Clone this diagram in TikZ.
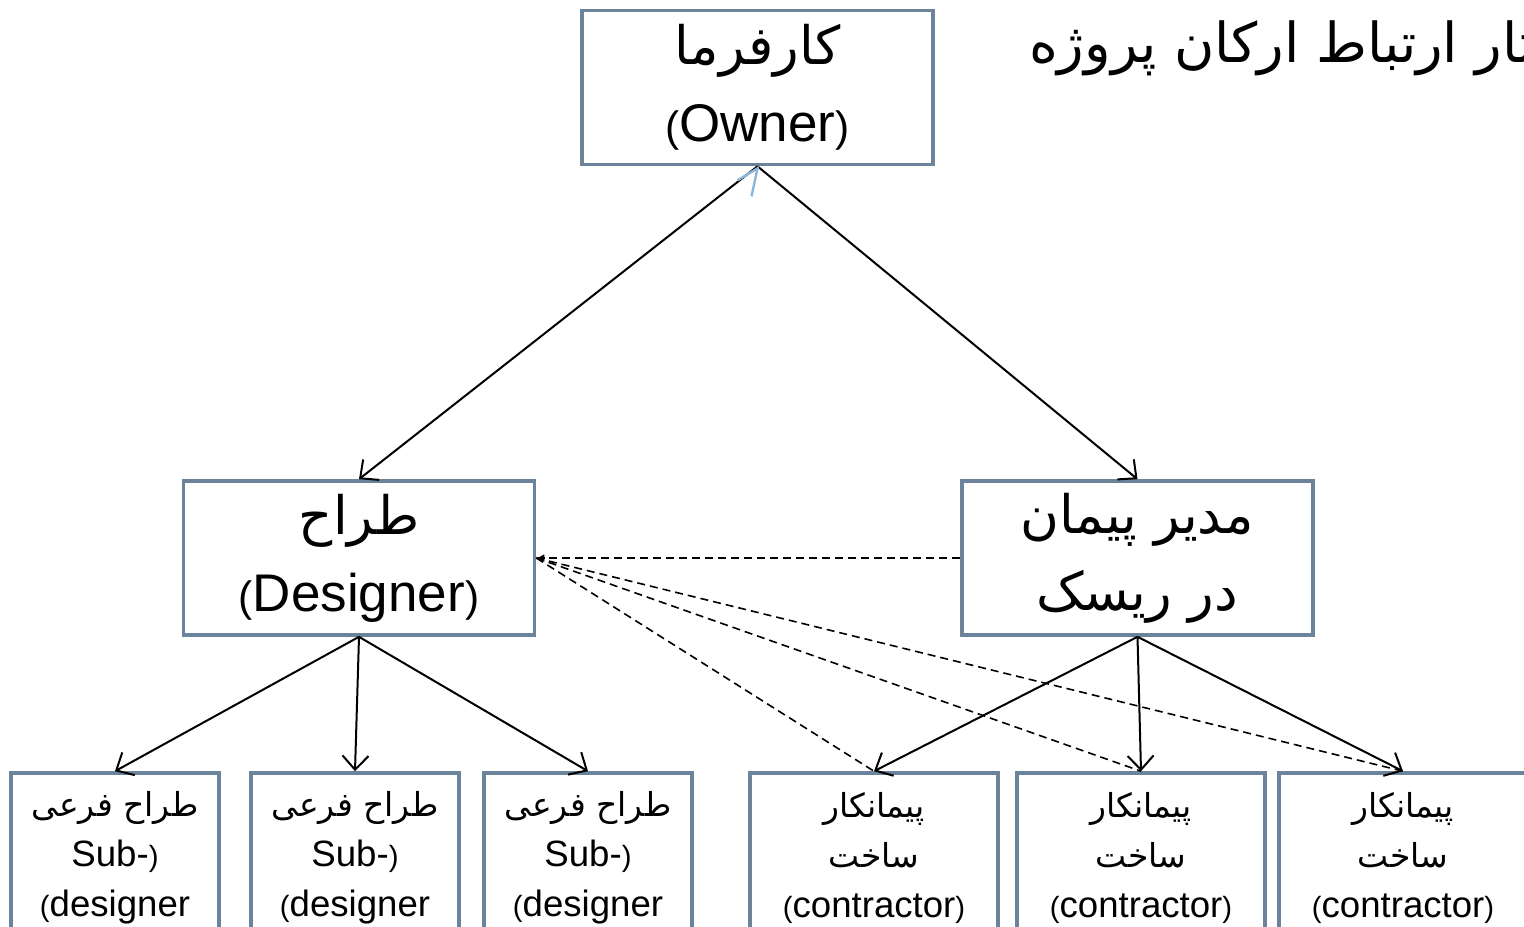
\documentclass[tikz,border=0pt]{standalone}
\usepackage{fontspec}
\setmainfont{Liberation Sans}
\newfontfamily\arabicfont[Script=Arabic]{DejaVu Sans}
\TeXXeTstate=1
\usetikzlibrary{arrows.meta}
\definecolor{boxline}{RGB}{108,131,156}
\definecolor{tipblue}{RGB}{140,182,218}
\newcommand{\fa}[1]{{\arabicfont\beginR #1\endR}}
\newcommand{\fasmall}[1]{{\fontsize{16.5}{25}\arabicfont\beginR #1\endR}}
\newcommand{\paren}[1]{\scalebox{0.8}{#1}}
\tikzset{
  box/.style={draw=boxline, line width=1.8pt, inner sep=0pt, align=center,
    font=\fontsize{26.5}{38.5}\selectfont},
  bigbox/.style={box, minimum width=175.5pt, minimum height=77pt},
  subbox/.style={box, minimum width=104pt, minimum height=85pt,
    font=\fontsize{18.3}{25}\selectfont},
  workbox/.style={subbox, minimum width=124pt},
  link/.style={line width=1pt, -{Straight Barb[length=7pt,width=13pt,line width=1pt]}},
  dlink/.style={line width=0.8pt, dash pattern=on 4pt off 2.5pt}
}
\begin{document}
\begin{tikzpicture}[x=0.5pt,y=-0.5pt]
\useasboundingbox (0,0) rectangle (1524,926);
\clip (0,0) rectangle (1524,926);
\node[anchor=base west, font=\fontsize{27.5}{27.5}\selectfont] (title) at (1022,62) {\fa{ساختار ارتباط ارکان پروژه}};
\node[bigbox] (owner) at (757.5,87.5) {\fa{کارفرما}\\\paren{(}Owner\paren{)}};
\node[bigbox] (designer) at (359,558) {\fa{طراح}\\\paren{(}Designer\paren{)}};
\node[bigbox] (manager) at (1137.5,558) {\fa{مدیر پیمان}\\\fa{در ریسک}};
\node[subbox] (sub1) at (115,858) {\fasmall{طراح فرعی}\\Sub-\paren{)}\\\paren{(}designer};
\node[subbox] (sub2) at (355,858) {\fasmall{طراح فرعی}\\Sub-\paren{)}\\\paren{(}designer};
\node[subbox] (sub3) at (588,858) {\fasmall{طراح فرعی}\\Sub-\paren{)}\\\paren{(}designer};
\node[workbox] (work1) at (874,858) {\fasmall{پیمانکار}\\\fasmall{ساخت}\\\paren{(}contractor\paren{)}};
\node[workbox] (work2) at (1141,858) {\fasmall{پیمانکار}\\\fasmall{ساخت}\\\paren{(}contractor\paren{)}};
\node[workbox] (work3) at (1403,858) {\fasmall{پیمانکار}\\\fasmall{ساخت}\\\paren{(}contractor\paren{)}};
\draw[link] (owner.south) -- (designer.north);
\draw[link] (owner.south) -- (manager.north);
\foreach \n in {sub1,sub2,sub3}
  \draw[link] (designer.south) -- (\n.north);
\foreach \n in {work1,work2,work3}
  \draw[link] (manager.south) -- (\n.north);
\draw[dlink, -{Latex[length=4pt,width=4pt]}] (manager.west) -- (designer.east);
\foreach \n in {work1,work2,work3}
  \draw[dlink] (designer.east) -- (\n.north);
\draw[tipblue, line width=1.2pt] ([xshift=-10,yshift=-7]owner.south) -- ([yshift=-1]owner.south) -- ([xshift=-3,yshift=-15]owner.south);
\end{tikzpicture}
\end{document}
